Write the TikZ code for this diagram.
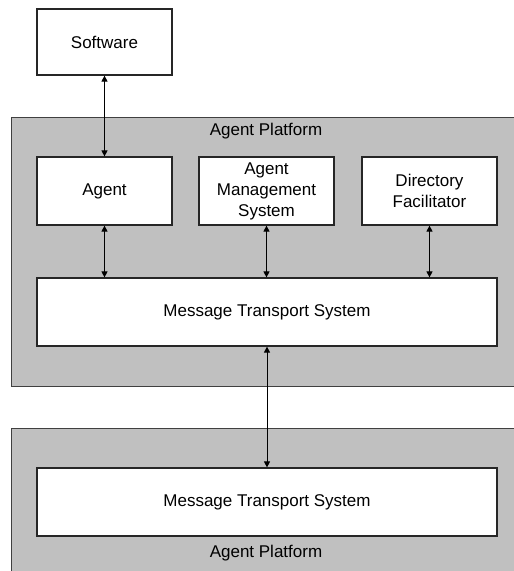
\documentclass[tikz,border=0pt]{standalone}
\usepackage{fontspec}
\setmainfont{Liberation Sans}
\usetikzlibrary{arrows.meta}
\definecolor{platgray}{RGB}{192,192,192}
\tikzset{
  box/.style={draw=black!85, line width=1.2pt, fill=white, inner sep=0pt, align=center,
    font=\fontsize{17}{21}\selectfont},
  platform/.style={draw=black!75, line width=1pt, fill=platgray, inner sep=0pt},
  lbl/.style={font=\fontsize{17}{21}\selectfont, inner sep=0pt},
  link/.style={line width=0.9pt, {Triangle[length=6pt,width=6pt]}-{Triangle[length=6pt,width=6pt]}}
}
\begin{document}
\begin{tikzpicture}[x=1pt,y=-1pt]
\clip (0,0) rectangle (514,571);
\fill[white] (0,0) rectangle (514,571);
% platforms
\node[platform, minimum width=529pt, minimum height=269pt] (p1) at (275.5,251.5) {};
\node[platform, minimum width=529pt, minimum height=172pt] (p2) at (275.5,514) {};
\node[lbl] (p1l) at (266,131) {Agent Platform};
\node[lbl] (p2l) at (266,553) {Agent Platform};
% boxes
\node[box, minimum width=135pt, minimum height=66pt] (sw) at (104.5,42) {Software};
\node[box, minimum width=135pt, minimum height=68pt] (ag) at (104.5,191) {Agent};
\node[box, minimum width=135pt, minimum height=68pt] (ams) at (266.5,191) {Agent\\Management\\System};
\node[box, minimum width=135pt, minimum height=68pt] (df) at (429.5,191) {Directory\\Facilitator};
\node[box, minimum width=460pt, minimum height=68pt] (mts1) at (267,312) {Message Transport System};
\node[box, minimum width=460pt, minimum height=68pt] (mts2) at (267,502) {Message Transport System};
% connectors
\draw[link] (sw) -- (ag);
\draw[link] (ag.south) -- (ag.south |- mts1.north);
\draw[link] (ams.south) -- (ams.south |- mts1.north);
\draw[link] (df.south) -- (df.south |- mts1.north);
\draw[link] (mts1) -- (mts2);
\end{tikzpicture}
\end{document}
